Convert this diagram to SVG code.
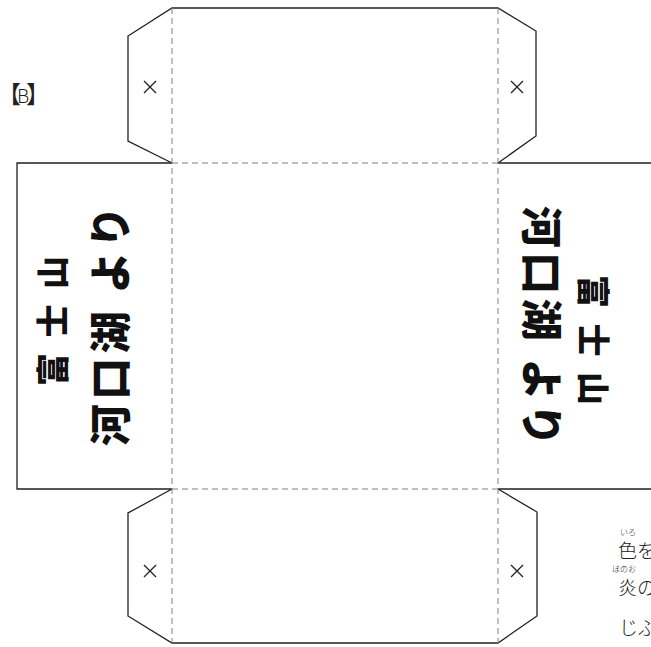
<svg xmlns="http://www.w3.org/2000/svg" width="651" height="647" viewBox="0 0 651 647">
<style>
.cut{fill:none;stroke:#231f20;stroke-width:1.3;stroke-linejoin:miter}
.fold{fill:none;stroke:#808080;stroke-width:1;stroke-dasharray:6 4}
.x{stroke:#231f20;stroke-width:1.3}
.brush{font-family:"Noto Sans CJK JP","Noto Sans CJK SC",sans-serif;font-weight:900;fill:#111}
.cap{font-family:"Noto Sans CJK JP","Noto Sans CJK SC",sans-serif;font-weight:300;fill:#231f20}
</style>
<rect width="651" height="647" fill="#fff"/>
<g id="label">
<text class="cap" font-size="24" y="103"><tspan x="-3">【</tspan><tspan x="17" font-size="19">B</tspan><tspan x="26">】</tspan></text>
</g>
<g id="top-flap">
<path class="cut" d="M172,163 L128,141 L128,36 L172,8 L498,8 L536,31 L536,136 L498,163"/>
<path class="x" d="M144,81 L156,93 M156,81 L144,93"/>
<path class="x" d="M511,81 L523,93 M523,81 L511,93"/>
</g>
<g id="left-panel">
<path class="cut" d="M172,163 L17,163 L17,489 L172,489"/>
<text class="brush" font-size="42" transform="translate(107,446) rotate(-90)" dominant-baseline="central" textLength="240" lengthAdjust="spacing">河口湖 より</text>
<text class="brush" font-size="33" transform="translate(51,386) rotate(-90)" dominant-baseline="central" textLength="130" lengthAdjust="spacing">富士山</text>
</g>
<g id="right-panel">
<path class="cut" d="M498,163 L651,163 M498,489 L651,489"/>
<text class="brush" font-size="42" transform="translate(544,206) rotate(90)" dominant-baseline="central" textLength="240" lengthAdjust="spacing">河口湖 より</text>
<text class="brush" font-size="33" transform="translate(595,275) rotate(90)" dominant-baseline="central" textLength="130" lengthAdjust="spacing">富士山</text>
</g>
<g id="bottom-flap">
<path class="cut" d="M172,489 L128,513 L128,616 L172,643 L498,643 L537,616 L537,512 L498,489"/>
<path class="x" d="M144,565 L156,577 M156,565 L144,577"/>
<path class="x" d="M511,565 L523,577 M523,565 L511,577"/>
</g>
<g id="connectors">
<path class="fold" d="M172,8 L172,643 M498,8 L498,643 M172,163 L498,163 M172,489 L498,489"/>
</g>
<g id="caption">
<text class="cap" font-size="8" x="620" y="535">いろ</text>
<text class="cap" font-size="19" x="618" y="558">色を</text>
<text class="cap" font-size="8" x="612" y="572">ほのお</text>
<text class="cap" font-size="19" x="618" y="595">炎の</text>
<text class="cap" font-size="19" x="619" y="635">じぶ</text>
</g>
</svg>
